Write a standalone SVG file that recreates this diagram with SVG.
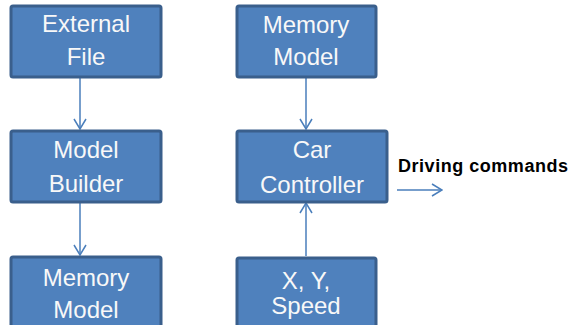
<svg xmlns="http://www.w3.org/2000/svg" width="571" height="325" viewBox="0 0 571 325">
<style>
.box{fill:#4F81BD;stroke:#3A5F8C;stroke-width:3}
.t{font-family:"Liberation Sans",Arial,sans-serif;font-size:24px;fill:#F8F8F8;text-anchor:middle}
.c{stroke:#4A7EBB;stroke-width:1.5;fill:none}
.lbl{font-family:"Liberation Sans",Arial,sans-serif;font-size:18px;font-weight:bold;fill:#000}
</style>
<defs>
<marker id="ah" markerWidth="12" markerHeight="14" refX="11" refY="7" orient="auto" markerUnits="userSpaceOnUse">
<path d="M1,1 L11,7 L1,13" fill="none" stroke="#4A7EBB" stroke-width="1.5"/>
</marker>
</defs>
<g id="connectors">
<line class="c" x1="80" y1="78" x2="80" y2="129" marker-end="url(#ah)"/>
<line class="c" x1="80" y1="203" x2="80" y2="255" marker-end="url(#ah)"/>
<line class="c" x1="306" y1="78" x2="306" y2="129" marker-end="url(#ah)"/>
<line class="c" x1="306" y1="256" x2="306" y2="203" marker-end="url(#ah)"/>
<line class="c" x1="397" y1="190" x2="442" y2="190" marker-end="url(#ah)"/>
</g>
<g id="external-file">
<rect class="box" x="11" y="6" width="150" height="71" rx="2"/>
<text class="t" x="86" y="32">External</text>
<text class="t" x="86" y="65">File</text>
</g>
<g id="model-builder">
<rect class="box" x="11" y="131" width="150" height="71" rx="2"/>
<text class="t" x="86" y="158">Model</text>
<text class="t" x="86" y="192">Builder</text>
</g>
<g id="memory-model-left">
<rect class="box" x="11" y="257" width="150" height="80" rx="2"/>
<text class="t" x="86" y="286">Memory</text>
<text class="t" x="86" y="318">Model</text>
</g>
<g id="memory-model-right">
<rect class="box" x="237" y="6" width="139" height="71" rx="2"/>
<text class="t" x="306" y="33">Memory</text>
<text class="t" x="306" y="65">Model</text>
</g>
<g id="car-controller">
<rect class="box" x="237" y="131" width="150" height="71" rx="2"/>
<text class="t" x="312" y="158">Car</text>
<text class="t" x="312" y="193">Controller</text>
</g>
<g id="xy-speed">
<rect class="box" x="237" y="258" width="139" height="80" rx="2"/>
<text class="t" x="306" y="289">X, Y,</text>
<text class="t" x="306" y="314">Speed</text>
</g>
<g id="driving-commands">
<text class="lbl" x="398" y="172" textLength="170" lengthAdjust="spacing">Driving commands</text>
</g>
</svg>
